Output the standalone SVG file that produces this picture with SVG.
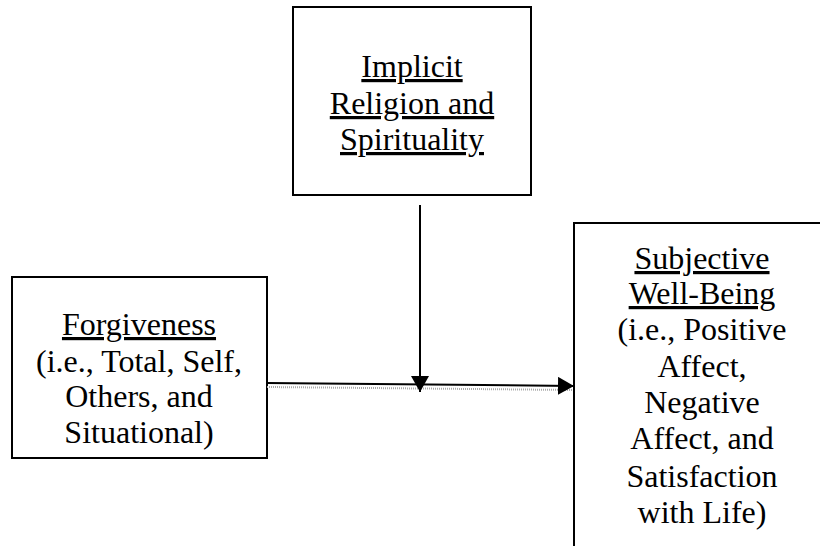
<svg xmlns="http://www.w3.org/2000/svg" width="820" height="546" viewBox="0 0 820 546">
<style>
.box{fill:#fff;stroke:#000;stroke-width:2}
.t{font-family:"Liberation Serif","Times New Roman",serif;font-size:32px;fill:#000;text-anchor:middle}
.u{text-decoration:underline}
.ln{stroke:#000;stroke-width:2;fill:none}
.sh{stroke:#aaa;stroke-width:2;stroke-dasharray:1 1;fill:none}
</style>
<defs>
<marker id="ah" markerWidth="16" markerHeight="18" refX="16" refY="9" orient="auto" markerUnits="userSpaceOnUse">
<path d="M0,0 L16,9 L0,18 Z" fill="#000"/>
</marker>
</defs>
<rect width="820" height="546" fill="#fff"/>
<g id="implicit">
<rect class="box" x="293" y="7" width="238" height="188"/>
<text class="t u" x="412" y="77">Implicit</text>
<text class="t u" x="412" y="114">Religion and</text>
<text class="t u" x="412" y="150">Spirituality</text>
</g>
<g id="forgiveness">
<rect class="box" x="12" y="277" width="255" height="181"/>
<text class="t u" x="139" y="335">Forgiveness</text>
<text class="t" x="139" y="372">(i.e., Total, Self,</text>
<text class="t" x="139" y="407">Others, and</text>
<text class="t" x="139" y="443">Situational)</text>
</g>
<g id="swb">
<rect class="box" x="574" y="223" width="270" height="340"/>
<text class="t u" x="702" y="269">Subjective</text>
<text class="t u" x="702" y="304">Well-Being</text>
<text class="t" x="702" y="340">(i.e., Positive</text>
<text class="t" x="702" y="377">Affect,</text>
<text class="t" x="702" y="413">Negative</text>
<text class="t" x="702" y="449">Affect, and</text>
<text class="t" x="702" y="487">Satisfaction</text>
<text class="t" x="702" y="523">with Life)</text>
</g>
<g id="connectors">
<line class="sh" x1="267" y1="387" x2="572" y2="390"/>
<line class="ln" x1="267" y1="383" x2="574" y2="386" marker-end="url(#ah)"/>
<line class="ln" x1="420" y1="205" x2="420" y2="392" marker-end="url(#ah)"/>
</g>
</svg>
